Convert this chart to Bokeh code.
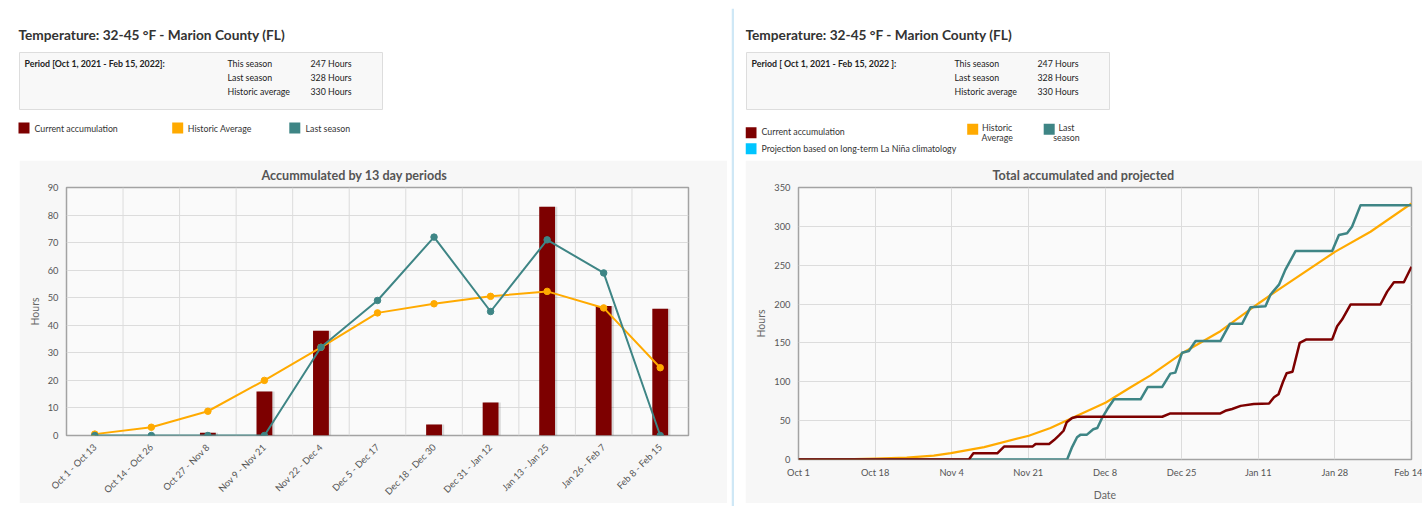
from math import pi
from bokeh.plotting import figure
from bokeh.models import (ColumnDataSource, Range1d, FactorRange, FixedTicker,
                          SingleIntervalTicker, Span, Spacer)
from bokeh.layouts import row, column
from bokeh.transform import dodge
from bokeh.core.properties import value
from bokeh.embed import file_html
from bokeh.resources import INLINE

FONT = "Lato"

# ---------------- data ----------------
main_title = "Temperature: 32-45 °F - Marion County (FL)"
period_left = "Period [Oct 1, 2021 - Feb 15, 2022]:"
period_right = "Period [ Oct 1, 2021 - Feb 15, 2022 ]:"
stat_names = ["This season", "Last season", "Historic average"]
stat_hours = [247, 328, 330]
legend_names = ["Current accumulation", "Historic Average", "Last season"]
projection_name = "Projection based on long-term La Niña climatology"
left_chart_title = "Accummulated by 13 day periods"
right_chart_title = "Total accumulated and projected"

periods = ["Oct 1 - Oct 13", "Oct 14 - Oct 26", "Oct 27 - Nov 8", "Nov 9 - Nov 21",
           "Nov 22 - Dec 4", "Dec 5 - Dec 17", "Dec 18 - Dec 30", "Dec 31 - Jan 12",
           "Jan 13 - Jan 25", "Jan 26 - Feb 7", "Feb 8 - Feb 15"]
current_13 = [0, 0, 1, 16, 38, 0, 4, 12, 83, 47, 46]
historic_13 = [0.5, 3, 8.8, 20, 32, 44.5, 47.8, 50.5, 52.3, 46.3, 24.6]
last_13 = [0, 0, 0, 0, 32, 49, 72, 45, 71, 59, 0]

# cumulative series: days since Oct 1, 2021 -> hours
current_days = [0, 37.8, 38.8, 44.1, 45.6, 51.9, 52.6, 55.6, 56.7, 57.8, 58.8, 59.5, 60.7,
                61.8, 80.7, 82.5, 93.6, 94.7, 96.2, 98.1, 101.0, 104.4, 105.5, 106.5,
                107.5, 108.3, 109.6, 111.2, 112.7, 118.4, 119.5, 120.6, 122.5, 129.1,
                130.6, 132.1, 134.3, 136]
current_hours = [0, 0, 8, 8, 16.6, 16.6, 20, 20, 25, 31, 37, 48, 53.5, 55, 55, 59.3, 59.3,
                 62.7, 65, 69, 71.3, 72, 80, 84, 100, 111, 113, 150, 154.5, 154.5, 171.5,
                 180, 199.5, 199.5, 216, 228, 228, 248]
last_days = [0, 59.6, 60.7, 61.8, 62.6, 64.0, 65.4, 66.3, 67.4, 68.5, 70.0, 75.9, 77.5,
             80.7, 82.5, 83.6, 85.1, 86.6, 88.1, 93.6, 95.7, 98.4, 100.3, 103.6, 104.7,
             106.6, 108.0, 110.3, 118.4, 119.9, 121.7, 122.8, 124.7, 136]
last_hours = [0, 0, 16, 28.6, 32, 32, 39, 40.5, 54, 64.6, 77.5, 77.5, 93.4, 93.4, 110.5,
              111.8, 137.4, 139.6, 152.4, 152.4, 174.6, 174.6, 196, 197.2, 212, 225, 244,
              268.4, 268.4, 289, 291, 299.6, 327.3, 327.3]
historic_days = [0, 10, 17, 24, 30, 33.8, 41.2, 51.1, 55.9, 60.7, 68.2, 73.6, 78, 85.3,
                 93.6, 102.2, 107, 119.1, 126.9, 136]
historic_hours = [0, 0.3, 1, 2.5, 5, 8.1, 16, 30.6, 40.5, 53.4, 73.4, 92.6, 108, 137.4,
                  165.1, 201.4, 220.6, 267.5, 293.1, 329.4]

date_tick_days = [0, 17, 34, 51, 68, 85, 102, 119, 136]
date_tick_labels = ["Oct 1", "Oct 18", "Nov 4", "Nov 21", "Dec 8", "Dec 25", "Jan 11",
                    "Jan 28", "Feb 14"]

C_CUR = "#7d0000"
C_HIST = "#ffaa00"
C_LAST = "#3e8585"
C_PROJ = "#00c5ff"
TXT = "#333333"
SMALL = "8.8px"


def txt(p, x, y, t, size=SMALL, bold=False, align="left", color=TXT):
    p.text(x=x, y=y, text=t, text_font=value(FONT), text_font_size=value(size),
           text_font_style="bold" if bold else "normal", text_align=align,
           text_baseline="middle", text_color=color)


def blank(w, h):
    p = figure(width=w, height=h, x_range=Range1d(0, w), y_range=Range1d(h, 0),
               toolbar_location=None, output_backend="svg", x_axis_location=None,
               y_axis_location=None, min_border=0)
    p.grid.visible = False
    p.outline_line_color = None
    p.background_fill_color = "white"
    p.border_fill_color = "white"
    return p


def header(w, period_text, x0):
    p = blank(w, 152)
    txt(p, [x0 + 10], [26], [main_title], size="13.7px", bold=True)
    p.quad(left=[x0 + 11], right=[x0 + 374], top=[44], bottom=[101],
           fill_color="#f8f8f8", line_color="#dddddd", line_width=1)
    txt(p, [x0 + 16], [54.5], [period_text], bold=True, color="#222222")
    ys = [54.5, 68.5, 82.5]
    txt(p, [x0 + 219] * 3, ys, stat_names, color="#222222")
    txt(p, [x0 + 302] * 3, ys, [f"{h} Hours" for h in stat_hours], color="#222222")
    return p


# ---------------- left header ----------------
hl = header(723, period_left, 0)
hl.rect(x=[15.5, 169.2, 286.3], y=[119.5] * 3, width=11, height=11,
        fill_color=[C_CUR, C_HIST, C_LAST], line_color=None)
txt(hl, [26, 179.3, 297], [119.5] * 3, legend_names)

# ---------------- right header ----------------
hr = header(677, period_right, -10)
hr.rect(x=[5.5, 5.5, 227.2, 303.7], y=[124.2, 140.3, 120.8, 120.8], width=11, height=11,
        fill_color=[C_CUR, C_PROJ, C_HIST, C_LAST], line_color=None)
txt(hr, [16, 16], [123, 139.5], [legend_names[0], projection_name])
hist_words = legend_names[1].split(" ")
last_words = legend_names[2].split(" ")
txt(hr, [251.7, 251.7, 321, 321], [119.3, 128.7, 119.3, 128.7],
    hist_words + last_words, align="center")


def style_chart(p, title_offset):
    p.background_fill_color = "#fafafa"
    p.border_fill_color = "#f7f7f7"
    p.outline_line_color = "#a3a3a3"
    p.outline_line_width = 1.5
    p.title.text_font = FONT
    p.title.text_font_size = "12.6px"
    p.title.text_font_style = "bold"
    p.title.text_color = "#555555"
    p.title.align = "left"
    p.title.offset = title_offset
    for ax in p.axis:
        ax.axis_line_color = None
        ax.major_tick_line_color = None
        ax.minor_tick_line_color = None
        ax.major_tick_out = 0
        ax.major_tick_in = 0
        ax.minor_tick_out = 0
        ax.minor_tick_in = 0
        ax.major_label_text_font = FONT
        ax.major_label_text_font_size = "9.3px"
        ax.major_label_text_color = "#555555"
        ax.axis_label_text_font = FONT
        ax.axis_label_text_font_size = "10.5px"
        ax.axis_label_text_font_style = "normal"
        ax.axis_label_text_color = "#666666"
    p.grid.grid_line_color = "#dcdcdc"
    p.grid.grid_line_width = 1


# ---------------- left chart ----------------
src = ColumnDataSource(dict(period=periods, current=current_13,
                            historic=historic_13, last=last_13))
pl = figure(width=708, height=343, x_range=FactorRange(*periods), y_range=Range1d(0, 90),
            toolbar_location=None, output_backend="svg", title=left_chart_title,
            min_border_left=47, min_border_right=39, min_border_top=26,
            min_border_bottom=68)
style_chart(pl, 195)
pl.yaxis.ticker = SingleIntervalTicker(interval=10)
pl.yaxis.axis_label = "Hours"
pl.yaxis.major_label_standoff = 8
pl.yaxis.axis_label_standoff = 4
pl.xaxis.major_label_orientation = pi / 4
pl.xaxis.major_label_standoff = 10
pl.xgrid.grid_line_color = None
for i in range(1, len(periods)):
    pl.add_layout(Span(location=i, dimension="height", line_color="#dcdcdc", line_width=1,
                       level="underlay"))
pl.vbar(x=dodge("period", 0.035, range=pl.x_range), top="current", width=0.29,
        source=src, fill_color="black", fill_alpha=0.13, line_color=None)
pl.vbar(x="period", top="current", width=0.28, source=src, fill_color=C_CUR,
        line_color=None)
pl.line(x="period", y="historic", source=src, line_color=C_HIST, line_width=2)
pl.scatter(x="period", y="historic", source=src, size=6.5, fill_color=C_HIST,
           line_color=C_HIST)
pl.line(x="period", y="last", source=src, line_color=C_LAST, line_width=2)
pl.scatter(x="period", y="last", source=src, size=6.5, fill_color=C_LAST,
           line_color=C_LAST)

# ---------------- right chart ----------------
pr = figure(width=677, height=343, x_range=Range1d(0, 136), y_range=Range1d(0, 350),
            toolbar_location=None, output_backend="svg", title=right_chart_title,
            min_border_left=53, min_border_right=11, min_border_top=26,
            min_border_bottom=44)
style_chart(pr, 194)
pr.yaxis.ticker = SingleIntervalTicker(interval=50)
pr.yaxis.axis_label = "Hours"
pr.yaxis.major_label_standoff = 8
pr.yaxis.axis_label_standoff = 4
pr.xaxis.ticker = FixedTicker(ticks=date_tick_days)
pr.xaxis.major_label_overrides = {d: l for d, l in zip(date_tick_days, date_tick_labels)}
pr.xaxis.major_label_standoff = 7
pr.xaxis.axis_label = "Date"
pr.xaxis.axis_label_standoff = 8
pr.line(historic_days, historic_hours, line_color=C_HIST, line_width=2.2, line_join="round")
pr.line(last_days, last_hours, line_color=C_LAST, line_width=2.5, line_join="round")
pr.line(current_days, current_hours, line_color=C_CUR, line_width=2.5, line_join="round")

# ---------------- divider ----------------
dv = blank(14, 498)
dv.quad(left=[0], right=[2.5], top=[0], bottom=[498], fill_color="#cfe8f6", line_color=None)

left_col = column(hl, row(Spacer(width=11, height=343), pl))
right_col = row(dv, column(row(hr), row(pr)))
layout = column(Spacer(width=1414, height=8),
                row(Spacer(width=8, height=498), left_col, right_col))

open("out.html", "w").write(file_html(layout, INLINE))
